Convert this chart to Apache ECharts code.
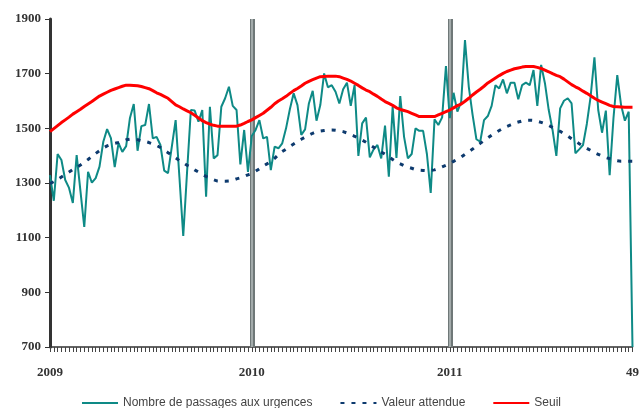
<!DOCTYPE html>
<html>
<head>
<meta charset="utf-8">
<script src="https://cdn.jsdelivr.net/npm/echarts@6/dist/echarts.min.js"></script>
<style>
html,body{margin:0;padding:0;background:#fff;}
#c{width:642px;height:408px;}
</style>
</head>
<body>
<div id="c"></div>
<script>
// Years and number of weeks shown for each
const years = ['2009', '2010', '2011'];
const weeksPerYear = [53, 52, 49];
// Tick labels on the x axis (category index -> label)
const xTickIdx = [0, 53, 105, 153];
const xTickText = ['2009', '2010', '2011', '49'];
// Year boundaries marked with grey bars
const yearBarIdx = [53, 105];

// Nombre de passages aux urgences
const passages = [
1329,1235,1406,1384,1311,1282,1227,1402,1270,1139,
1341,1301,1318,1360,1451,1497,1464,1358,1446,1414,
1435,1538,1589,1418,1508,1512,1589,1463,1469,1439,
1345,1336,1433,1530,1320,1106,1340,1567,1565,1524,
1567,1250,1579,1390,1402,1579,1610,1652,1582,1567,
1368,1494,1341,1472,1494,1530,1463,1469,1347,1433,
1427,1445,1500,1570,1628,1585,1476,1496,1591,1637,
1528,1585,1701,1650,1658,1634,1591,1643,1667,1582,
1658,1399,1518,1539,1394,1423,1439,1390,1510,1323,
1579,1392,1618,1469,1390,1406,1500,1491,1491,1406,
1264,1533,1512,1540,1728,1537,1630,1561,1597,1823,
1652,1549,1460,1451,1530,1545,1582,1658,1646,1679,
1628,1667,1667,1606,1658,1667,1658,1713,1582,1732,
1665,1567,1494,1399,1573,1601,1610,1591,1409,1423,
1439,1516,1616,1760,1567,1484,1565,1329,1537,1695,
1585,1528,1561,700
];
// Valeur attendue
const attendue = [
1298,1305,1313,1322,1331,1340,1349,1357,1366,1376,
1386,1397,1408,1418,1428,1436,1441,1445,1448,1452,
1458,1460,1460,1458,1455,1452,1448,1443,1437,1430,
1420,1411,1402,1392,1382,1374,1365,1357,1348,1340,
1331,1324,1318,1312,1307,1306,1306,1307,1310,1315,
1319,1324,1330,1335,1343,1352,1362,1370,1378,1390,
1404,1415,1424,1434,1443,1452,1460,1468,1475,1482,
1488,1490,1492,1494,1494,1493,1491,1488,1483,1477,
1471,1464,1457,1449,1440,1431,1422,1414,1405,1396,
1386,1376,1370,1363,1358,1354,1349,1347,1346,1345,
1346,1348,1353,1359,1365,1371,1379,1387,1395,1405,
1415,1424,1435,1445,1455,1465,1475,1484,1492,1500,
1507,1513,1519,1523,1527,1530,1530,1529,1526,1522,
1517,1511,1503,1496,1489,1480,1472,1462,1453,1444,
1435,1427,1419,1411,1405,1399,1393,1389,1385,1381,
1380,1380,1380,1380
];
// Seuil
const seuil = [
1488,1499,1510,1521,1531,1541,1552,1561,1570,1580,
1589,1598,1608,1618,1625,1632,1639,1644,1649,1654,
1658,1658,1657,1656,1653,1649,1645,1638,1630,1624,
1617,1610,1598,1586,1579,1571,1564,1557,1548,1538,
1528,1521,1515,1511,1508,1508,1508,1508,1508,1508,
1512,1518,1525,1531,1539,1547,1555,1566,1577,1590,
1600,1608,1617,1628,1638,1646,1655,1665,1672,1678,
1684,1689,1690,1691,1691,1691,1689,1684,1679,1673,
1665,1657,1648,1640,1634,1625,1617,1607,1598,1591,
1584,1575,1569,1565,1561,1555,1549,1543,1543,1543,
1543,1543,1549,1555,1561,1567,1575,1583,1589,1599,
1610,1622,1633,1643,1654,1666,1675,1684,1693,1701,
1708,1713,1718,1721,1724,1726,1726,1726,1723,1719,
1713,1707,1700,1694,1689,1680,1670,1660,1652,1645,
1636,1628,1619,1610,1602,1596,1590,1584,1580,1579,
1578,1577,1577,1577
];

const categories = [];
years.forEach((y, k) => {
  for (let w = 1; w <= weeksPerYear[k]; w++) categories.push(y + '-S' + w);
});

const chart = echarts.init(document.getElementById('c'), null, {renderer: 'canvas'});
const axisFont = {fontFamily: 'Liberation Serif', fontWeight: 'bold', fontSize: 13, color: '#333'};

chart.setOption({
  animation: false,
  backgroundColor: '#fff',
  grid: {left: 50, right: 6, top: 19, bottom: 61, containLabel: false},
  legend: {
    top: 392,
    left: 'center',
    itemWidth: 36,
    itemHeight: 14,
    itemGap: 27,
    itemStyle: {opacity: 0, borderWidth: 0},
    textStyle: {fontFamily: 'Liberation Sans, sans-serif', fontSize: 12, color: '#444'},
    data: ['Nombre de passages aux urgences', 'Valeur attendue', 'Seuil']
  },
  xAxis: {
    type: 'category',
    data: categories,
    boundaryGap: false,
    axisLine: {lineStyle: {color: '#333', width: 1.5}},
    axisTick: {interval: 0, length: 5, inside: false, lineStyle: {color: '#444'}},
    axisLabel: {
      interval: (i) => xTickIdx.indexOf(i) >= 0,
      formatter: (v, i) => { const k = xTickIdx.indexOf(i); return k >= 0 ? xTickText[k] : ''; },
      margin: 19,
      showMinLabel: true,
      showMaxLabel: true,
      ...axisFont
    },
    splitLine: {show: false}
  },
  yAxis: {
    type: 'value',
    min: 700,
    max: 1900,
    interval: 200,
    axisLine: {show: true, lineStyle: {color: '#333', width: 3}},
    axisTick: {show: true, length: 5, lineStyle: {color: '#333'}},
    axisLabel: {margin: 9, formatter: (v) => String(v), ...axisFont},
    splitLine: {show: false}
  },
  series: [
    {
      name: 'Nombre de passages aux urgences',
      type: 'line',
      data: passages,
      symbol: 'none',
      lineStyle: {color: '#0e8a86', width: 2},
      itemStyle: {color: '#0e8a86'},
      z: 3,
      markLine: {
        silent: true,
        symbol: 'none',
        label: {show: false},
        lineStyle: {color: '#6f7878', width: 5, type: 'solid'},
        data: yearBarIdx.map(i => ({xAxis: i})),
        z: 1
      }
    },
    {
      name: 'Valeur attendue',
      type: 'line',
      data: attendue,
      symbol: 'none',
      lineStyle: {color: '#0d3a6e', width: 3, type: [4, 7]},
      itemStyle: {color: '#0d3a6e'},
      z: 4,
      markLine: {
        silent: true,
        symbol: 'none',
        label: {show: false},
        lineStyle: {color: '#a3abab', width: 2, type: 'solid'},
        data: yearBarIdx.map(i => ({xAxis: i})),
        z: 1
      }
    },
    {
      name: 'Seuil',
      type: 'line',
      data: seuil,
      symbol: 'none',
      lineStyle: {color: '#ff0000', width: 3},
      itemStyle: {color: '#ff0000'},
      z: 5
    }
  ]
});
</script>
</body>
</html>
